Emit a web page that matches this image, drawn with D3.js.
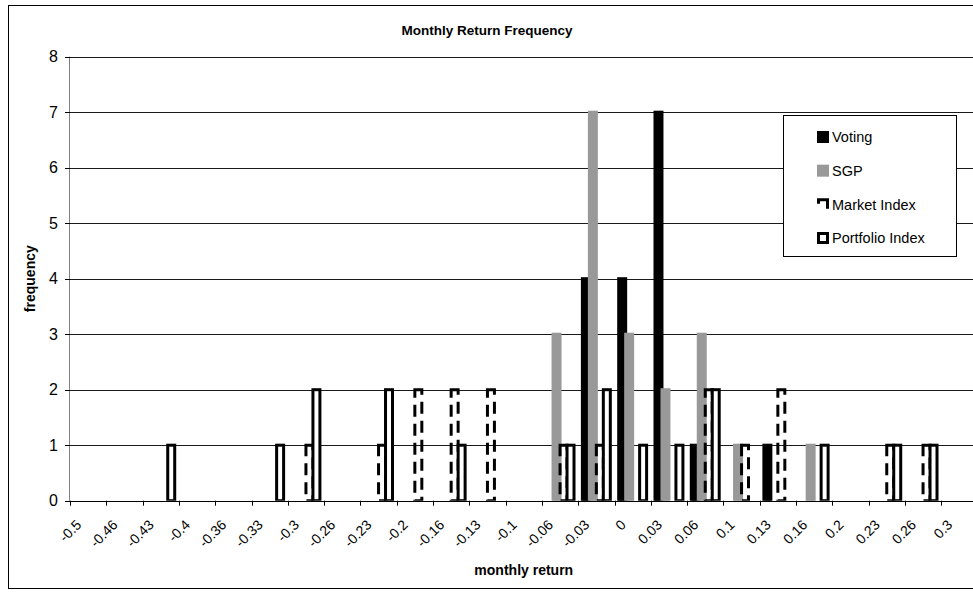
<!DOCTYPE html>
<html>
<head>
<meta charset="utf-8">
<script src="https://cdn.jsdelivr.net/npm/d3@7"></script>
<style>
  html, body { margin: 0; padding: 0; background: #fff; overflow: hidden; }
  svg { display: block; font-family: "Liberation Sans", Arial, sans-serif; }
</style>
</head>
<body>
<svg id="chart" width="973" height="592"></svg>
<script>
// Return buckets (category axis)
const categories = ["-0.5","-0.46","-0.43","-0.4","-0.36","-0.33","-0.3","-0.26","-0.23","-0.2",
  "-0.16","-0.13","-0.1","-0.06","-0.03","0","0.03","0.06","0.1","0.13","0.16","0.2","0.23","0.26","0.3"];

// Frequency counts per bucket
const voting         = [0,0,0,0,0,0,0,0,0,0,0,0,0,0,4,4,7,1,0,1,0,0,0,0,0];
const sgp            = [0,0,0,0,0,0,0,0,0,0,0,0,0,3,7,3,2,3,1,0,1,0,0,0,0];
const marketIndex    = [0,0,0,0,0,0,1,0,1,2,2,2,0,1,1,0,0,2,1,2,0,0,1,1,0];
const portfolioIndex = [0,0,1,0,0,1,2,0,2,0,1,0,0,1,2,1,1,2,0,0,1,0,1,1,0];

const seriesNames = ["Voting", "SGP", "Market Index", "Portfolio Index"];
const yTicks = [0,1,2,3,4,5,6,7,8];

const series = [
  { name: seriesNames[0], values: voting,         fill: "#000",    stroke: "#000",    dash: null,   keyDash: null },
  { name: seriesNames[1], values: sgp,            fill: "#999999", stroke: "#999999", dash: null,   keyDash: null },
  { name: seriesNames[2], values: marketIndex,    fill: "none",    stroke: "#000",    dash: "12,7", keyDash: "18,14,4" },
  { name: seriesNames[3], values: portfolioIndex, fill: "#fff",    stroke: "#000",    dash: null,   keyDash: null }
];

const svg = d3.select("#chart");
const plot = { left: 70, right: 977.5, top: 56.7, bottom: 500.7 };

const x = d3.scaleBand().domain(categories).range([plot.left, plot.right]);
const sub = d3.scaleBand().domain(seriesNames).range([0, x.bandwidth()]).paddingInner(0).paddingOuter(0.6);
const y = d3.scaleLinear().domain([0, 8]).range([plot.bottom, plot.top]);

// Chart area frame
svg.append("rect")
  .attr("x", 8.5).attr("y", 5.5).attr("width", 1000).attr("height", 583)
  .attr("fill", "#fff").attr("stroke", "#000").attr("stroke-width", 1);

// Title
svg.append("text")
  .attr("x", 487).attr("y", 35)
  .attr("text-anchor", "middle")
  .attr("font-size", 13.5).attr("font-weight", "bold")
  .text("Monthly Return Frequency");

// Horizontal gridlines
svg.append("g").selectAll("line")
  .data(yTicks.filter(t => t > 0))
  .join("line")
  .attr("x1", plot.left).attr("x2", plot.right)
  .attr("y1", d => Math.round(y(d)) + 0.5).attr("y2", d => Math.round(y(d)) + 0.5)
  .attr("stroke", "#1a1a1a").attr("stroke-width", 1);

// Bars, clipped to the plot area
svg.append("defs").append("clipPath").attr("id", "plotClip")
  .append("rect")
  .attr("x", plot.left).attr("y", plot.top - 4)
  .attr("width", plot.right - plot.left).attr("height", plot.bottom - plot.top + 4);

const barLayer = svg.append("g").attr("clip-path", "url(#plotClip)");
series.forEach(s => {
  barLayer.append("g").selectAll("rect")
    .data(s.values.map((v, i) => ({ cat: categories[i], v })).filter(d => d.v > 0))
    .join("rect")
    .attr("x", d => x(d.cat) + sub(s.name))
    .attr("width", sub.bandwidth())
    .attr("y", d => y(d.v))
    .attr("height", d => y(0) - y(d.v))
    .attr("fill", s.fill)
    .attr("stroke", s.stroke)
    .attr("stroke-width", 3)
    .attr("stroke-dasharray", s.dash);
});

// Value axis (left)
const yAxis = svg.append("g");
yAxis.append("line")
  .attr("x1", plot.left - 0.5).attr("x2", plot.left - 0.5)
  .attr("y1", y(8)).attr("y2", y(0))
  .attr("stroke", "#808080");
yAxis.selectAll("line.tick")
  .data(yTicks).join("line").attr("class", "tick")
  .attr("x1", plot.left - 5).attr("x2", plot.left)
  .attr("y1", d => Math.round(y(d)) + 0.5).attr("y2", d => Math.round(y(d)) + 0.5)
  .attr("stroke", "#000");
yAxis.selectAll("text")
  .data(yTicks).join("text")
  .attr("x", 58).attr("y", d => y(d))
  .attr("dy", "0.36em")
  .attr("text-anchor", "end")
  .attr("font-size", 16)
  .text(d => d);

// Category axis (bottom)
const xAxis = svg.append("g");
xAxis.append("line")
  .attr("x1", plot.left).attr("x2", plot.right)
  .attr("y1", Math.round(y(0)) + 0.5).attr("y2", Math.round(y(0)) + 0.5)
  .attr("stroke", "#000");
xAxis.selectAll("line.tick")
  .data(categories.map(c => x(c)).concat([plot.right]))
  .join("line").attr("class", "tick")
  .attr("x1", d => Math.round(d) + 0.5).attr("x2", d => Math.round(d) + 0.5)
  .attr("y1", y(0)).attr("y2", y(0) + 5)
  .attr("stroke", "#000");
xAxis.selectAll("text")
  .data(categories).join("text")
  .attr("transform", d => `translate(${x(d) + x.bandwidth() / 2 - 6},${y(0) + 25}) rotate(-45)`)
  .attr("text-anchor", "end")
  .attr("font-size", 14)
  .text(d => d);

// Axis titles
svg.append("text")
  .attr("x", (plot.left + plot.right) / 2).attr("y", 575)
  .attr("text-anchor", "middle")
  .attr("font-size", 14).attr("font-weight", "bold")
  .text("monthly return");

svg.append("text")
  .attr("transform", `translate(35,${(plot.top + plot.bottom) / 2}) rotate(-90)`)
  .attr("text-anchor", "middle")
  .attr("font-size", 14).attr("font-weight", "bold")
  .text("frequency");

// Legend
const legend = svg.append("g");
legend.append("rect")
  .attr("x", 783.5).attr("y", 115.5).attr("width", 173).attr("height", 141)
  .attr("fill", "#fff").attr("stroke", "#000");
const rowY = d3.scalePoint().domain(seriesNames).range([137, 238]);
const item = legend.selectAll("g.item").data(series).join("g").attr("class", "item")
  .attr("transform", s => `translate(0,${rowY(s.name)})`);
item.append("rect")
  .attr("x", 818.5).attr("y", -4.5).attr("width", 9).attr("height", 9)
  .attr("fill", s => s.fill === "none" ? "#fff" : s.fill)
  .attr("stroke", s => s.stroke)
  .attr("stroke-width", 3)
  .attr("stroke-dasharray", s => s.keyDash);
item.append("text")
  .attr("x", 832).attr("y", 0).attr("dy", "0.36em")
  .attr("font-size", 14.5)
  .text(s => s.name);
</script>
</body>
</html>
